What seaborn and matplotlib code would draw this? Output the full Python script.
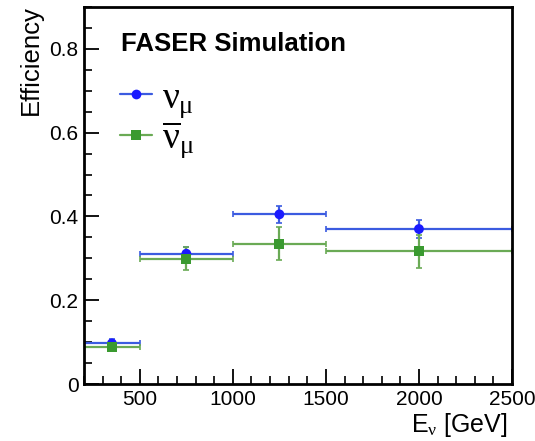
import matplotlib
matplotlib.use("Agg")
import matplotlib.pyplot as plt
from matplotlib.lines import Line2D
from matplotlib.ticker import MultipleLocator, FuncFormatter
import seaborn as sns
import pandas as pd

# Energy bins [GeV]
bin_low = [200, 500, 1000, 1500]
bin_high = [500, 1000, 1500, 2500]
bin_center = [350, 750, 1250, 2000]

# Efficiencies and uncertainties
eff_numu = [0.097, 0.311, 0.405, 0.370]
err_numu = [0.010, 0.015, 0.020, 0.021]
eff_numubar = [0.089, 0.299, 0.335, 0.317]
err_numubar = [0.010, 0.027, 0.040, 0.039]

labels = [r"$\nu_{\mu}$", r"$\overline{\nu}_{\mu}$"]
colors = {"numu": "#1a1aff", "numubar": "#3a9a30"}
line_colors = {"numu": "#3b5be0", "numubar": "#6aaa55"}

sns.set_style("ticks")
plt.rcParams["font.family"] = ["Liberation Sans", "DejaVu Sans"]
# upright serif Greek letters in math text
plt.rcParams["mathtext.fontset"] = "custom"
plt.rcParams["mathtext.rm"] = "Liberation Serif"
plt.rcParams["mathtext.it"] = "Liberation Serif"
plt.rcParams["mathtext.bf"] = "Liberation Serif:bold"
for k in ["text.color", "axes.labelcolor", "xtick.color", "ytick.color", "axes.edgecolor"]:
    plt.rcParams[k] = "black"

rows = []
for key, eff, err in [("numu", eff_numu, err_numu), ("numubar", eff_numubar, err_numubar)]:
    for lo, hi, c, e, de in zip(bin_low, bin_high, bin_center, eff, err):
        rows.append(dict(kind=key, E=c, lo=lo, hi=hi, eff=e, err=de))
df = pd.DataFrame(rows)

fig = plt.figure(figsize=(5.35, 4.41), dpi=100)
ax = fig.add_axes([84 / 535, 1 - 384 / 441, (512 - 84) / 535, (384 - 7) / 441])

for key in ["numu", "numubar"]:
    d = df[df["kind"] == key]
    ax.errorbar(d["E"], d["eff"],
                xerr=[d["E"] - d["lo"], d["hi"] - d["E"]], yerr=d["err"],
                fmt="none", ecolor=line_colors[key], elinewidth=1.6,
                capsize=2.5, capthick=1.2, zorder=2)

sns.scatterplot(data=df, x="E", y="eff", hue="kind", style="kind",
                markers={"numu": "o", "numubar": "s"},
                palette=colors, s=50, linewidth=0, ax=ax, legend=False, zorder=3)

ax.set_xlim(200, 2500)
ax.set_ylim(0, 0.9)
ax.xaxis.set_major_locator(MultipleLocator(500))
ax.xaxis.set_minor_locator(MultipleLocator(100))
ax.yaxis.set_major_locator(MultipleLocator(0.2))
ax.yaxis.set_minor_locator(MultipleLocator(0.05))
ax.yaxis.set_major_formatter(FuncFormatter(
    lambda v, p: "0" if abs(v) < 1e-9 else f"{v:.1f}"))
ax.tick_params(which="major", direction="in", length=11, width=1.3,
               labelsize=15, pad=4, top=False, right=False)
ax.tick_params(which="minor", direction="in", length=6, width=1.2,
               top=False, right=False)
for s in ax.spines.values():
    s.set_linewidth(2)
    s.set_visible(True)

ax.set_xlabel(r"E$_{\nu}$ [GeV]", fontsize=18, ha="right")
ax.xaxis.set_label_coords(0.99, -0.072, transform=ax.transAxes)
ax.xaxis.label.set_va("top")
ax.set_ylabel("Efficiency", fontsize=18.5, ha="center", va="center")
ax.yaxis.set_label_coords(-0.124, 0.859, transform=ax.transAxes)

ax.text(0.086, 0.903, "FASER Simulation", transform=ax.transAxes,
        fontsize=18.5, fontweight="bold", va="center", ha="left")

handles = [
    Line2D([], [], color=line_colors["numu"], marker="o", markerfacecolor=colors["numu"],
           markeredgewidth=0, markersize=7, linewidth=1.6),
    Line2D([], [], color=line_colors["numubar"], marker="s", markerfacecolor=colors["numubar"],
           markeredgewidth=0, markersize=7, linewidth=1.6),
]
ax.legend(handles, labels, loc="upper left", bbox_to_anchor=(0.085, 0.808),
          frameon=False, fontsize=27, handlelength=0.85, handletextpad=0.25,
          labelspacing=0.0, borderaxespad=0, borderpad=0)

fig.savefig("out.png", dpi=100)
